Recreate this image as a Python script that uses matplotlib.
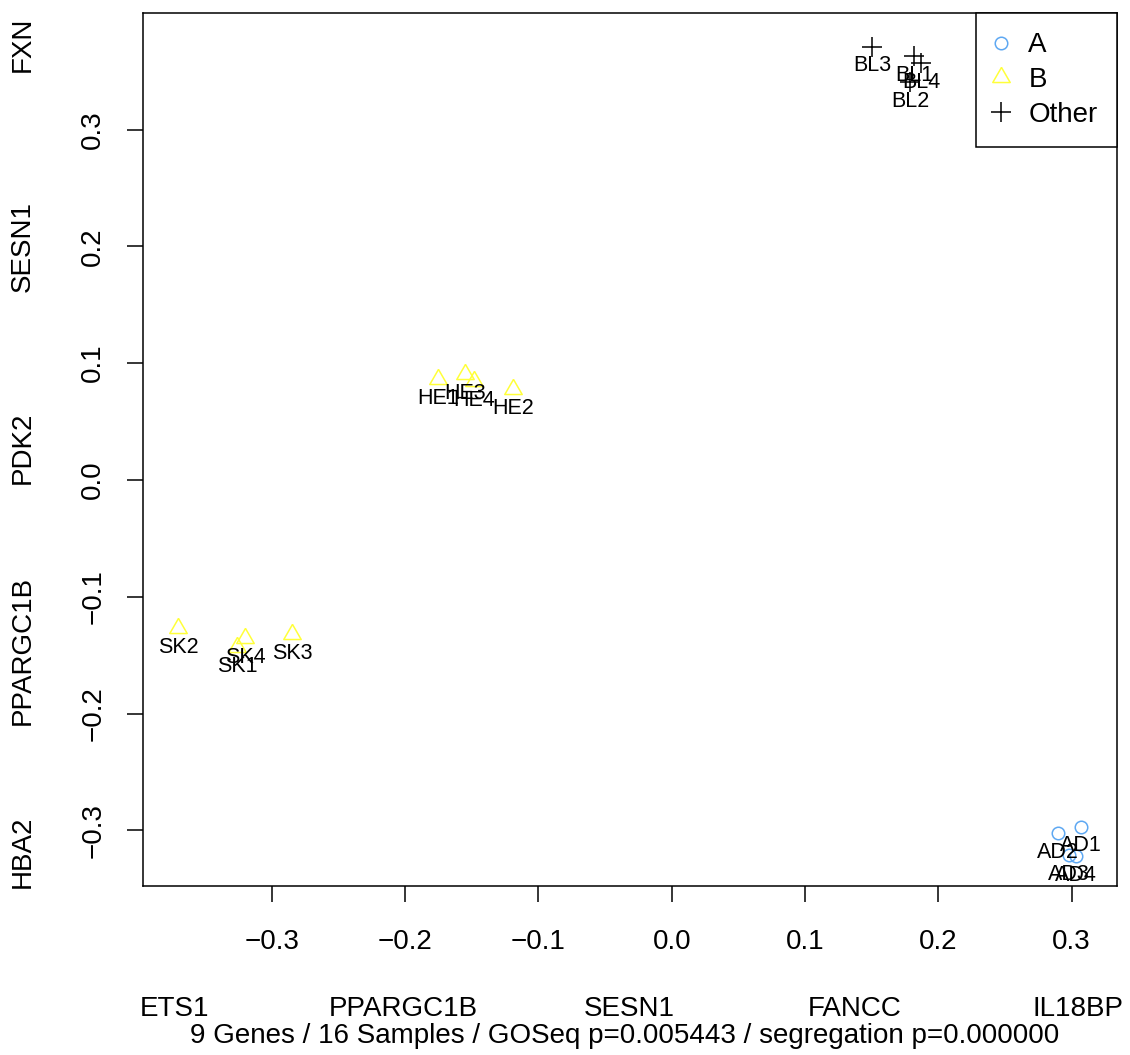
import matplotlib
matplotlib.use('Agg')
import matplotlib.pyplot as plt
import numpy as np

plt.rcParams['font.family'] = ['Liberation Sans', 'DejaVu Sans']

# sample scores
samples = ['AD1', 'AD2', 'AD3', 'AD4', 'BL1', 'BL2', 'BL3', 'BL4',
           'HE1', 'HE2', 'HE3', 'HE4', 'SK1', 'SK2', 'SK3', 'SK4']
groups = ['A'] * 4 + ['Other'] * 4 + ['B'] * 8
x_vals = [0.307, 0.290, 0.2982, 0.3035,
          0.1818, 0.1788, 0.1503, 0.187,
          -0.175, -0.1188, -0.155, -0.148,
          -0.326, -0.370, -0.2846, -0.320]
y_vals = [-0.2967, -0.3024, -0.3212, -0.3218,
          0.3626, 0.3403, 0.3711, 0.3566,
          0.0862, 0.0776, 0.0905, 0.0848,
          -0.1434, -0.1264, -0.1321, -0.1349]

x_ticks = [-0.3, -0.2, -0.1, 0.0, 0.1, 0.2, 0.3]
y_ticks = [-0.3, -0.2, -0.1, 0.0, 0.1, 0.2, 0.3]
x_genes = ['ETS1', 'PPARGC1B', 'SESN1', 'FANCC', 'IL18BP']
y_genes = ['HBA2', 'PPARGC1B', 'PDK2', 'SESN1', 'FXN']
subtitle = '9 Genes / 16 Samples / GOSeq p=0.005443 / segregation p=0.000000'

TRI = [(0, 1), (-0.866, -0.5), (0.866, -0.5), (0, 1)]
STYLE = {
    'A': dict(marker='o', color='#5ea8f2', ms=9),
    'B': dict(marker=TRI, color='#ffff3a', ms=14.5),
    'Other': dict(marker='+', color='black', ms=14),
}

fig = plt.figure(figsize=(11.3, 10.55), dpi=100)
ax = fig.add_axes([143 / 1130, 1 - 886 / 1055, 974 / 1130, 873 / 1055])

xs = np.array(x_vals)
ys = np.array(y_vals)
gs = np.array(groups)
for g in ['A', 'B', 'Other']:
    m = gs == g
    st = STYLE[g]
    ax.plot(xs[m], ys[m], linestyle='none', marker=st['marker'], ms=st['ms'],
            mfc='none', mec=st['color'], mew=1.1, label=g)

for s, x, y in zip(samples, x_vals, y_vals):
    ax.annotate(s, (x, y), xytext=(0, -14), textcoords='offset points',
                ha='center', va='center', fontsize=15.5)

ax.set_xlim(-0.3966, 0.334)
ax.set_ylim(-0.3476, 0.3998)
ax.set_xticks(x_ticks)
ax.set_yticks(y_ticks)
ax.tick_params(direction='out', length=11.5, width=1.1, labelsize=20)
ax.tick_params(axis='x', pad=19.5)
ax.tick_params(axis='y', labelrotation=90, pad=15)
for lab in ax.get_yticklabels():
    lab.set_va('center')
for sp in ax.spines.values():
    sp.set_linewidth(1.1)

leg = ax.legend(loc='upper right', borderaxespad=0, fancybox=False,
                edgecolor='black', framealpha=1, fontsize=20,
                handlelength=0.4, handletextpad=0.77, borderpad=0.7,
                labelspacing=0.31)
leg.get_frame().set_linewidth(1.1)

# gene names along the axes
for name, px in zip(x_genes, [175, 403, 629, 855, 1078]):
    fig.text(px / 1130, 1 - 1016 / 1055, name, ha='center', va='baseline', fontsize=20)
for name, py in zip(y_genes, [852, 650, 448, 246, 44]):
    fig.text(23 / 1130, 1 - py / 1055, name, ha='center', va='center',
             rotation=90, fontsize=20)
fig.text(625 / 1130, 1 - 1043 / 1055, subtitle, ha='center', va='baseline', fontsize=20)

fig.savefig('out.png', dpi=100)
